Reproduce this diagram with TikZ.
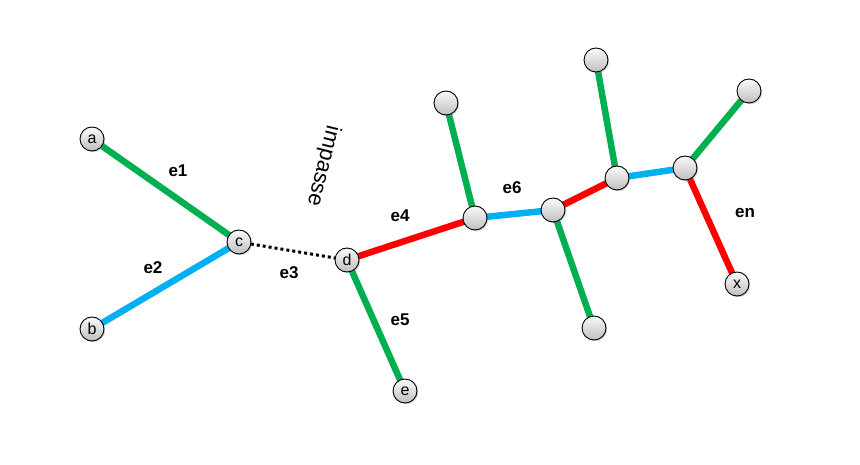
\documentclass[tikz,border=0pt]{standalone}
\usepackage{fontspec}
\setmainfont{Liberation Sans}
\usetikzlibrary{shadows}
\definecolor{eg}{RGB}{0,176,80}
\definecolor{eb}{RGB}{0,176,240}
\definecolor{er}{RGB}{255,0,0}
\begin{document}
\begin{tikzpicture}[x=1pt,y=-1pt,
  vert/.style={circle,draw=black,line width=0.9pt,minimum size=24pt,inner sep=0pt,
    top color=white!96!gray,bottom color=gray!50,
    drop shadow={shadow xshift=1.2pt,shadow yshift=-1.2pt,opacity=0.35},
    font=\fontsize{16}{16}\selectfont},
  edge/.style={line width=6.5pt},
  g/.style={edge,draw=eg},
  bl/.style={edge,draw=eb},
  rd/.style={edge,draw=er},
  lab/.style={font=\bfseries\fontsize{17}{17}\selectfont}]
\useasboundingbox (0,0) rectangle (860,465);
\path[fill=white] (0,0) rectangle (860,465);
\coordinate (pa) at (92,139);
\coordinate (pb) at (92,329);
\coordinate (pc) at (239,242);
\coordinate (pd) at (347,260);
\coordinate (pe) at (405,391);
\coordinate (p1) at (475,218);
\coordinate (t1) at (446,103);
\coordinate (p2) at (553,210);
\coordinate (bt) at (594,328);
\coordinate (p3) at (617,178);
\coordinate (t2) at (596,60);
\coordinate (p4) at (685,168);
\coordinate (t3) at (749,91);
\coordinate (px) at (737,284);
% edges
\draw[g] (pa) -- (pc);
\draw[bl] (pb) -- (pc);
\draw[black,line width=3pt,dash pattern=on 3pt off 3pt] (pc) -- (pd);
\draw[rd] (pd) -- (p1);
\draw[g] (pd) -- (pe);
\draw[g] (t1) -- (p1);
\draw[bl] (p1) -- (p2);
\draw[g] (p2) -- (bt);
\draw[rd] (p2) -- (p3);
\draw[g] (t2) -- (p3);
\draw[bl] (p3) -- (p4);
\draw[g] (p4) -- (t3);
\draw[rd] (p4) -- (px);
% nodes
\node[vert] (a) at (pa) {a};
\node[vert] (b) at (pb) {b};
\node[vert] (c) at (pc) {c};
\node[vert] (d) at (pd) {d};
\node[vert] (e) at (pe) {e};
\node[vert] (n1) at (p1) {};
\node[vert] (m1) at (t1) {};
\node[vert] (n2) at (p2) {};
\node[vert] (m2) at (bt) {};
\node[vert] (n3) at (p3) {};
\node[vert] (m3) at (t2) {};
\node[vert] (n4) at (p4) {};
\node[vert] (m4) at (t3) {};
\node[vert] (x) at (px) {x};
% labels
\node[lab] (l1) at (178,171) {e1};
\node[lab] (l2) at (153,268) {e2};
\node[lab] (l3) at (289,273) {e3};
\node[lab] (l4) at (400,216) {e4};
\node[lab] (l5) at (400,320) {e5};
\node[lab] (l6) at (512,188) {e6};
\node[lab] (ln) at (745,213) {en};
\node[font=\fontsize{22}{22}\selectfont,rotate=-104,inner sep=0pt] (imp) at (323,166) {impasse};
\end{tikzpicture}
\end{document}
